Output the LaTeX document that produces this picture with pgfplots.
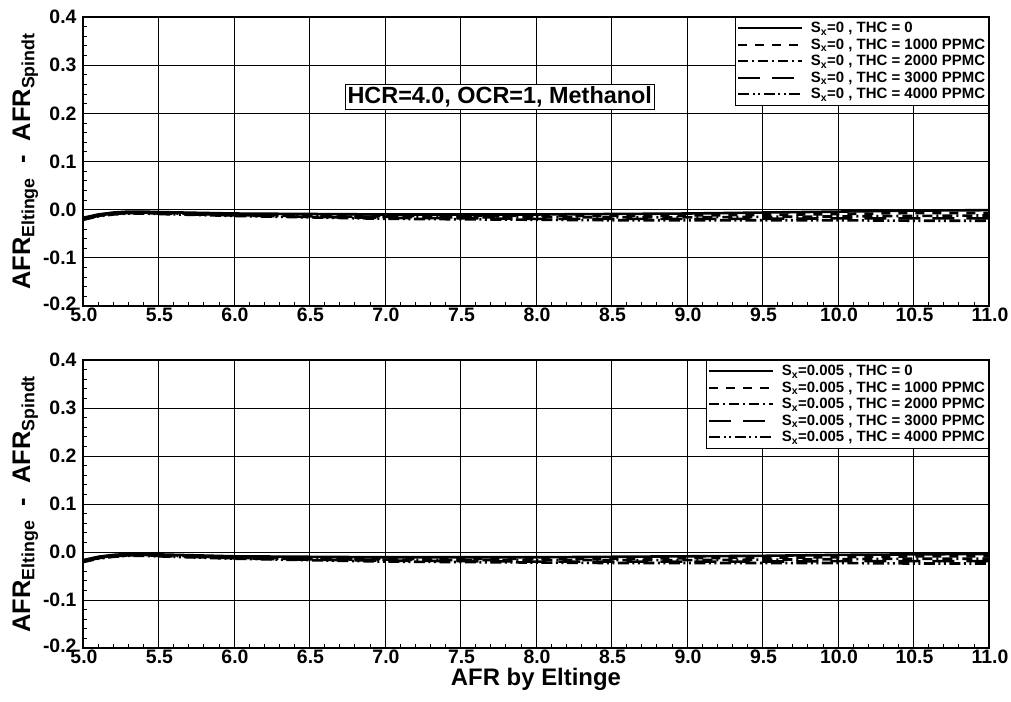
\documentclass[border=0pt]{standalone}
\usepackage{fontspec}
\setmainfont{Liberation Sans}
\usepackage{pgfplots}
\usepackage{pgfplotstable}
\pgfplotsset{compat=1.18}

% AFR difference, Eltinge minus Spindt, for THC = 0 ... 4000 PPMC
\pgfplotstableread{
x     t0      t1      t2      t3      t4
5.0  -0.017  -0.018  -0.019  -0.020  -0.021
5.1  -0.010  -0.011  -0.012  -0.013  -0.014
5.2  -0.006  -0.007  -0.008  -0.009  -0.010
5.3  -0.004  -0.005  -0.006  -0.007  -0.008
5.4  -0.004  -0.005  -0.006  -0.007  -0.008
5.5  -0.005  -0.006  -0.007  -0.008  -0.009
6.0  -0.008  -0.010  -0.011  -0.012  -0.013
6.5  -0.009  -0.012  -0.014  -0.015  -0.016
7.0  -0.010  -0.013  -0.015  -0.017  -0.019
7.5  -0.010  -0.013  -0.016  -0.018  -0.020
8.0  -0.010  -0.013  -0.016  -0.019  -0.021
8.5  -0.009  -0.013  -0.016  -0.019  -0.022
9.0  -0.008  -0.012  -0.016  -0.019  -0.022
9.5  -0.006  -0.011  -0.015  -0.019  -0.022
10.0 -0.004  -0.009  -0.014  -0.018  -0.022
10.5 -0.002  -0.007  -0.013  -0.018  -0.023
11.0 -0.001  -0.007  -0.012  -0.018  -0.023
}\sxzero

\pgfplotstableread{
x     t0      t1      t2      t3      t4
5.0  -0.017  -0.018  -0.019  -0.020  -0.021
5.1  -0.010  -0.011  -0.012  -0.013  -0.014
5.2  -0.006  -0.007  -0.008  -0.009  -0.010
5.3  -0.004  -0.005  -0.006  -0.007  -0.008
5.4  -0.004  -0.005  -0.006  -0.007  -0.008
5.5  -0.005  -0.006  -0.007  -0.008  -0.009
6.0  -0.009  -0.011  -0.012  -0.013  -0.014
6.5  -0.010  -0.013  -0.015  -0.016  -0.017
7.0  -0.011  -0.014  -0.016  -0.018  -0.020
7.5  -0.011  -0.014  -0.017  -0.019  -0.021
8.0  -0.011  -0.014  -0.017  -0.020  -0.022
8.5  -0.010  -0.014  -0.017  -0.020  -0.023
9.0  -0.009  -0.013  -0.017  -0.020  -0.023
9.5  -0.008  -0.012  -0.016  -0.020  -0.023
10.0 -0.006  -0.011  -0.015  -0.019  -0.023
10.5 -0.005  -0.009  -0.014  -0.019  -0.024
11.0 -0.004  -0.009  -0.014  -0.019  -0.024
}\sxfive

\pgfplotsset{
  afrpanel/.style={
    scale only axis,
    width=906bp, height=289bp,
    xmin=5, xmax=11, ymin=-0.2, ymax=0.4,
    xtick={5,5.5,6,6.5,7,7.5,8,8.5,9,9.5,10,10.5,11},
    xticklabels={5.0,5.5,6.0,6.5,7.0,7.5,8.0,8.5,9.0,9.5,10.0,10.5,11.0},
    ytick={-0.2,-0.1,0,0.1,0.2,0.3,0.4},
    yticklabels={\raisebox{5bp}{-0.2},-0.1,0.0,0.1,0.2,0.3,0.4},
    minor x tick num=4, minor y tick num=4,
    grid=major,
    major grid style={black, line width=0.9bp},
    tick align=inside,
    xtick pos=left, ytick pos=left,
    major tick length=6bp, minor tick length=4bp,
    every tick/.style={black, line width=0.8bp},
    axis line style={black, line width=2bp},
    tick label style={font=\bfseries\fontsize{19.5}{22}\selectfont},
    xticklabel style={text height=14bp, text depth=0bp, yshift=2bp, xshift=1bp},
    yticklabel style={xshift=-3bp},
    ylabel={AFR\textsubscript{Eltinge}\ \ -\ \ AFR\textsubscript{Spindt}},
    ylabel style={font=\bfseries\fontsize{25.5}{28}\selectfont, yshift=-2bp},
    legend cell align=left,
    legend style={
      at={(1,1)}, anchor=north east,
      draw=black, line width=0.9bp, fill=white,
      font=\bfseries\fontsize{15}{17}\selectfont,
      inner xsep=2bp, inner ysep=3bp,
      row sep=0.5bp,
      nodes={inner sep=1.5bp, text height=11bp, text depth=2bp},
      /tikz/every odd column/.append style={column sep=6bp},
    },
    legend image code/.code={\draw[##1, line width=2bp] (0bp,0bp) -- (64bp,0bp);},
    thc0/.style={black, line width=2.6bp},
    thc1/.style={black, line width=2.6bp, dash pattern=on 9bp off 8bp},
    thc2/.style={black, line width=2.6bp, dash pattern=on 10bp off 4bp on 2bp off 4bp},
    thc3/.style={black, line width=2.6bp, dash pattern=on 22bp off 12bp},
    thc4/.style={black, line width=2.6bp, dash pattern=on 11bp off 3.5bp on 2bp off 3.5bp on 2bp off 3.5bp},
  }
}

\begin{document}
\begin{tikzpicture}
\useasboundingbox (0bp,0bp) rectangle (1011bp,702bp);

% upper panel: S_x = 0
\begin{axis}[afrpanel, at={(83bp,396bp)}, anchor=south west]
  \addplot[thc0] table[x=x, y=t0] {\sxzero};
  \addplot[thc1] table[x=x, y=t1] {\sxzero};
  \addplot[thc2] table[x=x, y=t2] {\sxzero};
  \addplot[thc3] table[x=x, y=t3] {\sxzero};
  \addplot[thc4] table[x=x, y=t4] {\sxzero};
  \legend{{S\textsubscript{x}=0 , THC = 0},
          {S\textsubscript{x}=0 , THC = 1000 PPMC},
          {S\textsubscript{x}=0 , THC = 2000 PPMC},
          {S\textsubscript{x}=0 , THC = 3000 PPMC},
          {S\textsubscript{x}=0 , THC = 4000 PPMC}}
  \node[draw=black, line width=0.8bp, fill=white, inner sep=2bp,
        font=\bfseries\fontsize{23.5}{26}\selectfont]
        at (axis cs:7.76,0.234) {HCR=4.0, OCR=1, Methanol};
\end{axis}

% lower panel: S_x = 0.005
\begin{axis}[afrpanel, at={(83bp,54bp)}, anchor=south west, height=288bp,
  xlabel={AFR by Eltinge},
  xlabel style={font=\bfseries\fontsize{24}{27}\selectfont, yshift=2bp}]
  \addplot[thc0] table[x=x, y=t0] {\sxfive};
  \addplot[thc1] table[x=x, y=t1] {\sxfive};
  \addplot[thc2] table[x=x, y=t2] {\sxfive};
  \addplot[thc3] table[x=x, y=t3] {\sxfive};
  \addplot[thc4] table[x=x, y=t4] {\sxfive};
  \legend{{S\textsubscript{x}=0.005 , THC = 0},
          {S\textsubscript{x}=0.005 , THC = 1000 PPMC},
          {S\textsubscript{x}=0.005 , THC = 2000 PPMC},
          {S\textsubscript{x}=0.005 , THC = 3000 PPMC},
          {S\textsubscript{x}=0.005 , THC = 4000 PPMC}}
\end{axis}
\end{tikzpicture}
\end{document}
